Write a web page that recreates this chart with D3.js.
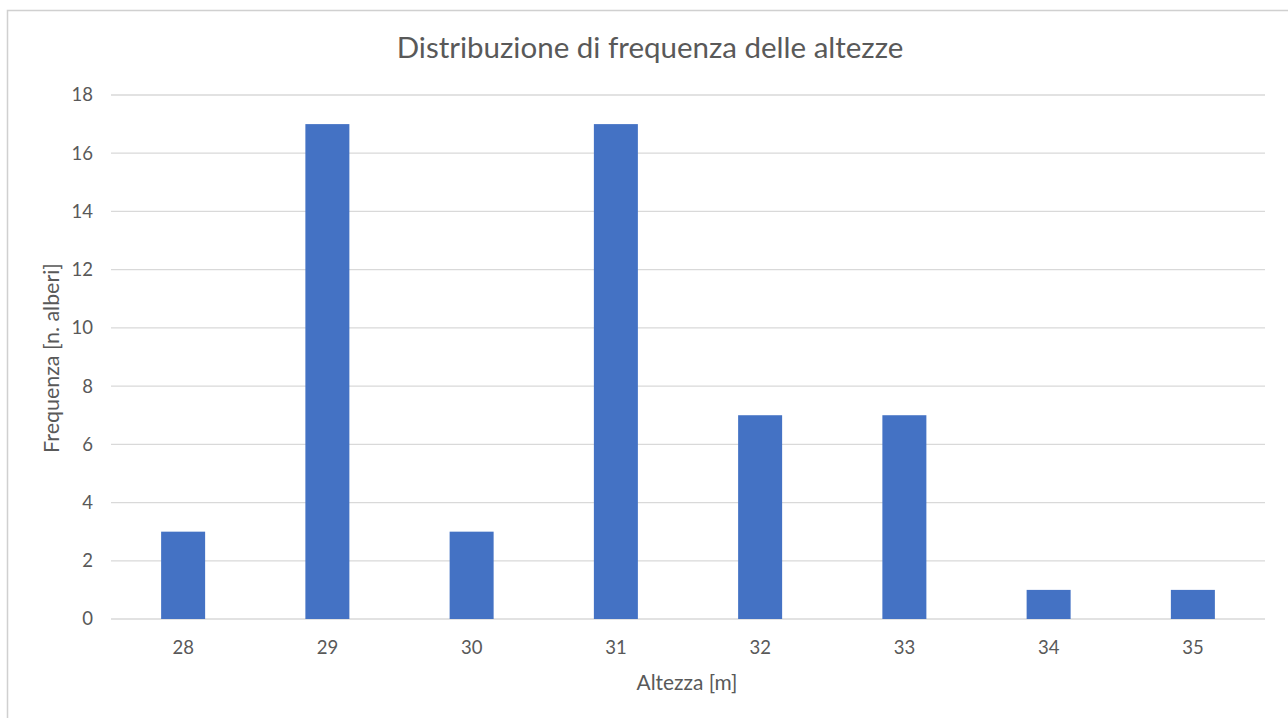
<!DOCTYPE html>
<html>
<head>
<meta charset="utf-8">
<script src="https://cdn.jsdelivr.net/npm/d3@7"></script>
<style>
  html, body { margin: 0; padding: 0; background: #fff; }
  svg { display: block; }
  text { font-family: Lato, "Open Sans", "Liberation Sans", sans-serif; fill: #595959; }
</style>
</head>
<body>
<svg id="chart" width="1288" height="718"></svg>
<script>
// Heights (m) and number of trees per class
const categories = ["28", "29", "30", "31", "32", "33", "34", "35"];
const frequencies = [3, 17, 3, 17, 7, 7, 1, 1];
const yTicks = [0, 2, 4, 6, 8, 10, 12, 14, 16, 18];
const chartTitle = "Distribuzione di frequenza delle altezze";
const xTitle = "Altezza [m]";
const yTitle = "Frequenza [n. alberi]";

const svg = d3.select("#chart");
const W = 1288, H = 718;

// font size that makes a string span the given width
function fitSize(str, width) {
  const t = svg.append("text").attr("font-size", 20).text(str);
  const w = t.node().getComputedTextLength();
  t.remove();
  return 20 * width / w;
}
const titleSize = fitSize(chartTitle, 507);
const tickSize = fitSize("28", 21.5);
const xTitleSize = fitSize(xTitle, 101);
const yTitleSize = fitSize(yTitle, 190);

// chart frame
svg.append("rect")
  .attr("x", 7.5).attr("y", 10.5)
  .attr("width", W + 10).attr("height", H + 10)
  .attr("fill", "#fff").attr("stroke", "#d0d0d0").attr("stroke-width", 1.5);

const plot = { left: 111, right: 1265, top: 95, bottom: 619 };

const x = d3.scaleBand()
  .domain(categories)
  .range([plot.left, plot.right])
  .paddingInner(0.695)
  .paddingOuter(0.3475);

const y = d3.scaleLinear()
  .domain([0, 18])
  .range([plot.bottom, plot.top]);

// horizontal gridlines
svg.append("g")
  .selectAll("line")
  .data(yTicks)
  .join("line")
  .attr("x1", plot.left).attr("x2", plot.right)
  .attr("y1", d => y(d)).attr("y2", d => y(d))
  .attr("stroke", "#d9d9d9").attr("stroke-width", 1.3);

// bars
svg.append("g")
  .selectAll("rect")
  .data(categories.map((c, i) => ({ c, v: frequencies[i] })))
  .join("rect")
  .attr("x", d => x(d.c))
  .attr("width", x.bandwidth())
  .attr("y", d => y(d.v))
  .attr("height", d => y(0) - y(d.v))
  .attr("fill", "#4472c4");

// y axis labels
const yAxis = svg.append("g")
  .attr("transform", `translate(${plot.left - 18},0)`)
  .call(d3.axisLeft(y).tickValues(yTicks).tickSize(0).tickPadding(0));
yAxis.select(".domain").remove();
yAxis.selectAll("text")
  .attr("font-size", tickSize)
  .attr("font-family", null)
  .attr("fill", "#595959");

// x axis labels
const xAxis = svg.append("g")
  .attr("transform", `translate(0,${plot.bottom})`)
  .call(d3.axisBottom(x).tickSize(0).tickPadding(22));
xAxis.select(".domain").remove();
xAxis.selectAll("text")
  .attr("font-size", tickSize)
  .attr("font-family", null)
  .attr("fill", "#595959");

// title
svg.append("text")
  .attr("x", 650).attr("y", 58)
  .attr("text-anchor", "middle")
  .attr("font-size", titleSize)
  .text(chartTitle);

// axis titles
svg.append("text")
  .attr("x", 687).attr("y", 690)
  .attr("text-anchor", "middle")
  .attr("font-size", xTitleSize)
  .text(xTitle);

svg.append("text")
  .attr("transform", `translate(59,358) rotate(-90)`)
  .attr("text-anchor", "middle")
  .attr("font-size", yTitleSize)
  .text(yTitle);
</script>
</body>
</html>
